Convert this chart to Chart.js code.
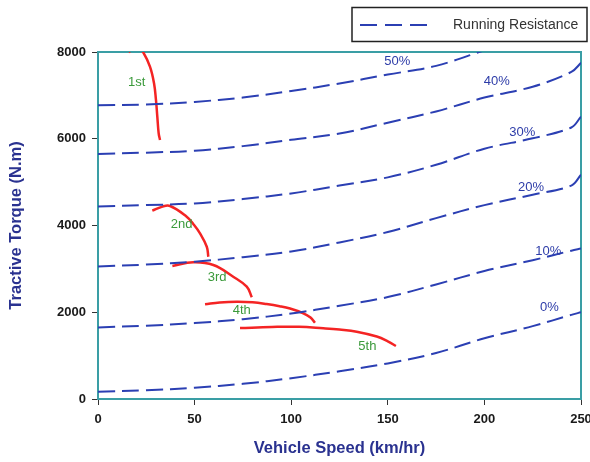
<!DOCTYPE html>
<html>
<head>
<meta charset="utf-8">
<script src="https://cdn.jsdelivr.net/npm/chart.js@4/dist/chart.umd.min.js"></script>
<style>
  body { margin: 0; background: #fff; }
  canvas { display: block; }
</style>
</head>
<body>
<canvas id="tractionChart" width="590" height="462"></canvas>
<script>
// Running resistance (grade %) curves, torque in N.m
const speeds = [0, 25, 50, 75, 100, 125, 150, 175, 200, 225, 245, 250];
const grade0 = [170, 200, 260, 350, 480, 640, 820, 1060, 1400, 1680, 1940, 2000];
const grade10 = [1650, 1690, 1750, 1840, 1970, 2150, 2350, 2640, 2950, 3200, 3420, 3470];
const grade20 = [3055, 3100, 3165, 3270, 3400, 3610, 3850, 4170, 4470, 4710, 4920, 5170];
const grade30 = [4440, 4470, 4510, 4610, 4740, 4920, 5110, 5400, 5770, 6010, 6260, 6510];
const grade40 = [5650, 5680, 5725, 5830, 5975, 6120, 6370, 6630, 6950, 7200, 7540, 7750];
const grade50 = [6775, 6790, 6850, 6950, 7100, 7275, 7480, 7680, 8040];
const gradeLabels = ["0%", "10%", "20%", "30%", "40%", "50%"];
// label anchor (speed, torque) for each grade label
const gradeLabelX = [233.6, 233.1, 224.1, 219.6, 206.4, 154.9];
const gradeLabelY = [2114, 3396, 4871, 6139, 7315, 7776];

// Tractive effort per gear
const gear1Speed = [16, 19.5, 23.4, 26.9, 29, 30, 30.7, 31.4, 32.1];
const gear1Torque = [7990, 8200, 7993, 7661, 7278, 6894, 6508, 6126, 5971];
const gear2Speed = [28.1, 33, 37.3, 45.9, 49.3, 52.8, 56.3, 57.1];
const gear2Torque = [4341, 4430, 4450, 4203, 4035, 3820, 3511, 3281];
const gear3Speed = [38.5, 49.3, 59.7, 70, 77, 79.6];
const gear3Torque = [3066, 3152, 3089, 2820, 2589, 2345];
const gear4Speed = [55.4, 63, 71.8, 80, 87.3, 94, 99.4, 106.3, 110, 112.3];
const gear4Torque = [2183, 2225, 2243, 2230, 2190, 2140, 2085, 1976, 1880, 1759];
const gear5Speed = [73.5, 90, 104, 116.6, 125, 133.9, 144.3, 150, 154.2];
const gear5Torque = [1635, 1660, 1665, 1630, 1600, 1552, 1440, 1330, 1222];
const gearLabels = ["1st", "2nd", "3rd", "4th", "5th"];
const gearLabelX = [20, 43.3, 61.7, 74.4, 139.4];
const gearLabelY = [7292, 4035, 2806, 2036, 1206];

const BLUE = "#2b3fb3";
const RED = "#f42424";
const TEAL = "#3a9ea5";
const NAVY = "#2a3290";
const FONT = 'Arial, "Liberation Sans", sans-serif';

const toPoints = (xs, ys) => ys.map((y, i) => ({ x: xs[i], y }));

const gradeSeries = [grade0, grade10, grade20, grade30, grade40, grade50];
const gearSeries = [
    [gear1Speed, gear1Torque],
    [gear2Speed, gear2Torque],
    [gear3Speed, gear3Torque],
    [gear4Speed, gear4Torque],
    [gear5Speed, gear5Torque]
];

const datasets = [];
gradeSeries.forEach((ys, i) => {
    datasets.push({
        label: "Running Resistance " + gradeLabels[i],
        data: toPoints(speeds, ys),
        borderColor: BLUE,
        borderWidth: 2,
        borderDash: [17, 7],
        pointRadius: 0,
        tension: 0.35,
        fill: false
    });
});
gearSeries.forEach(([xs, ys], i) => {
    datasets.push({
        label: gearLabels[i],
        data: toPoints(xs, ys),
        borderColor: RED,
        borderWidth: 2.5,
        pointRadius: 0,
        tension: 0.4,
        fill: false
    });
});

// frame, text annotations and the boxed legend
const decorations = {
    id: "decorations",
    beforeDatasetsDraw(chart) {
        const { ctx, chartArea: a } = chart;
        ctx.save();
        ctx.strokeStyle = TEAL;
        ctx.lineWidth = 2;
        ctx.strokeRect(a.left, a.top, a.right - a.left, a.bottom - a.top);
        ctx.restore();
    },
    afterDraw(chart) {
        const { ctx } = chart;
        const xs = chart.scales.x, ys = chart.scales.y;
        ctx.save();
        ctx.font = "13px " + FONT;
        ctx.textAlign = "center";
        ctx.textBaseline = "middle";
        ctx.fillStyle = "#2d3ca8";
        gradeLabels.forEach((t, i) => {
            ctx.fillText(t, xs.getPixelForValue(gradeLabelX[i]), ys.getPixelForValue(gradeLabelY[i]));
        });
        ctx.fillStyle = "#3b9a3b";
        gearLabels.forEach((t, i) => {
            ctx.fillText(t, xs.getPixelForValue(gearLabelX[i]), ys.getPixelForValue(gearLabelY[i]));
        });

        // legend box
        ctx.strokeStyle = "#222";
        ctx.lineWidth = 1.5;
        ctx.strokeRect(352, 7.5, 235, 34);
        ctx.strokeStyle = BLUE;
        ctx.lineWidth = 2;
        ctx.setLineDash([17, 8]);
        ctx.beginPath();
        ctx.moveTo(360, 25);
        ctx.lineTo(434, 25);
        ctx.stroke();
        ctx.setLineDash([]);
        ctx.fillStyle = "#333";
        ctx.textAlign = "left";
        ctx.font = "14px " + FONT;
        ctx.fillText("Running Resistance", 453, 25);
        ctx.restore();
    }
};

new Chart(document.getElementById("tractionChart"), {
    type: "line",
    data: { datasets },
    options: {
        responsive: false,
        animation: false,
        layout: { padding: { top: 52, right: 9, bottom: 0, left: 0 } },
        plugins: {
            legend: { display: false },
            tooltip: { enabled: false }
        },
        scales: {
            x: {
                type: "linear",
                min: 0,
                max: 250,
                afterFit(scale) {
                    scale.height = 63;
                    scale.paddingLeft = 0;
                    scale.paddingRight = 0;
                },
                ticks: {
                    stepSize: 50,
                    padding: 7,
                    color: "#1a1a1a",
                    callback: v => String(v),
                    font: { family: FONT, size: 13, weight: "bold" }
                },
                grid: {
                    drawOnChartArea: false,
                    tickLength: 6,
                    tickColor: "#333"
                },
                border: { color: TEAL, width: 2 },
                title: {
                    display: true,
                    text: "Vehicle Speed (km/hr)",
                    color: NAVY,
                    padding: { top: 0, bottom: 4 },
                    font: { family: FONT, size: 16.5, weight: "bold" }
                }
            },
            y: {
                min: 0,
                max: 8000,
                afterFit(scale) {
                    scale.width = 98;
                },
                ticks: {
                    stepSize: 2000,
                    padding: 6,
                    color: "#1a1a1a",
                    callback: v => String(v),
                    font: { family: FONT, size: 13, weight: "bold" }
                },
                grid: {
                    drawOnChartArea: false,
                    tickLength: 6,
                    tickColor: "#333"
                },
                border: { color: TEAL, width: 2 },
                title: {
                    display: true,
                    text: "Tractive Torque (N.m)",
                    color: NAVY,
                    padding: { top: 7, bottom: 0 },
                    font: { family: FONT, size: 16.5, weight: "bold" }
                }
            }
        }
    },
    plugins: [decorations]
});
</script>
</body>
</html>
